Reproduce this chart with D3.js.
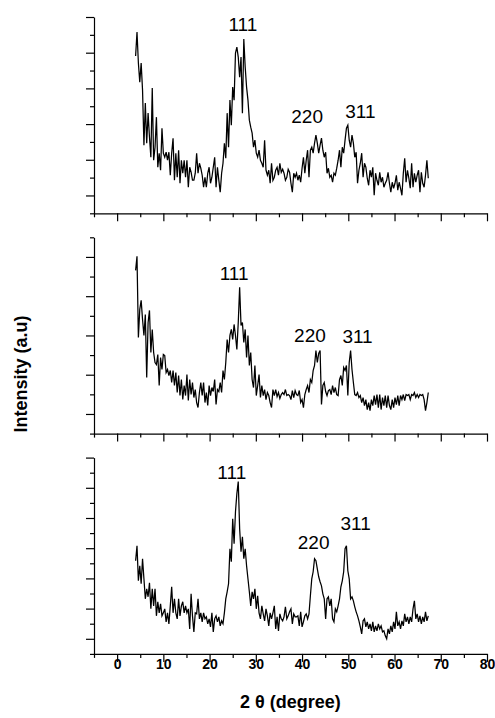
<!DOCTYPE html>
<html>
<head>
<meta charset="utf-8">
<script src="https://cdnjs.cloudflare.com/ajax/libs/d3/7.8.5/d3.min.js"></script>
<style>
  body { margin: 0; background: #fff; }
  svg { display: block; font-family: "Liberation Sans", Arial, sans-serif; }
</style>
</head>
<body>
<div id="xrd"></div>
<script>
// 2theta scan, same steps for the three samples
const twoTheta = [
  4,4.3,4.6,4.9,5.2,5.5,5.8,6.1,6.4,6.7,
  7,7.3,7.6,7.9,8.2,8.5,8.8,9.1,9.4,9.7,
  10,10.3,10.6,10.9,11.2,11.5,11.8,12.1,12.4,12.7,
  13,13.3,13.6,13.9,14.2,14.5,14.8,15.1,15.4,15.7,
  16,16.3,16.6,16.9,17.2,17.5,17.8,18.1,18.4,18.7,
  19,19.3,19.6,19.9,20.2,20.5,20.8,21.1,21.4,21.7,
  22,22.3,22.6,22.9,23.2,23.5,23.8,24.1,24.4,24.7,
  25,25.3,25.6,25.9,26.2,26.5,26.8,27.1,27.4,27.7,
  28,28.3,28.6,28.9,29.2,29.5,29.8,30.1,30.4,30.7,
  31,31.3,31.6,31.9,32.2,32.5,32.8,33.1,33.4,33.7,
  34,34.3,34.6,34.9,35.2,35.5,35.8,36.1,36.4,36.7,
  37,37.3,37.6,37.9,38.2,38.5,38.8,39.1,39.4,39.7,
  40,40.3,40.6,40.9,41.2,41.5,41.8,42.1,42.4,42.7,
  43,43.3,43.6,43.9,44.2,44.5,44.8,45.1,45.4,45.7,
  46,46.3,46.6,46.9,47.2,47.5,47.8,48.1,48.4,48.7,
  49,49.3,49.6,49.9,50.2,50.5,50.8,51.1,51.4,51.7,
  52,52.3,52.6,52.9,53.2,53.5,53.8,54.1,54.4,54.7,
  55,55.3,55.6,55.9,56.2,56.5,56.8,57.1,57.4,57.7,
  58,58.3,58.6,58.9,59.2,59.5,59.8,60.1,60.4,60.7,
  61,61.3,61.6,61.9,62.2,62.5,62.8,63.1,63.4,63.7,
  64,64.3,64.6,64.9,65.2,65.5,65.8,66.1,66.4,66.7,
  67,67.3
];

const intensityTop = [
  157,181,150,131,150,123,68,110,70,100,
  76,56,125,53,66,96,46,60,43,85,
  60,56,61,53,61,38,60,75,33,60,
  36,63,30,53,40,53,36,53,26,46,
  41,33,33,40,60,40,50,45,38,26,
  36,26,40,46,30,36,46,56,26,46,
  33,21,40,50,70,55,100,66,113,88,
  126,113,160,166,156,136,156,100,174,146,
  126,113,93,86,80,66,73,60,56,63,
  53,50,46,73,43,38,43,30,50,33,
  36,43,46,38,50,41,44,40,33,36,
  44,41,30,21,40,36,40,33,38,31,
  45,56,40,53,63,36,63,66,60,70,
  78,70,60,68,75,63,56,61,40,45,
  36,38,31,40,38,45,53,63,46,66,
  60,73,85,88,73,66,78,70,56,61,
  30,43,50,60,36,50,46,35,28,43,
  36,46,18,40,33,28,41,31,36,26,
  30,33,41,30,21,31,25,30,38,23,
  31,25,18,40,55,31,43,35,25,50,
  26,40,31,38,43,21,41,30,26,38,
  53,35
];

const intensityMid = [
  163,177,96,124,133,114,98,119,56,111,
  123,81,104,81,71,69,79,48,76,64,
  79,78,61,64,58,63,51,63,48,61,
  41,58,38,54,34,48,38,59,33,54,
  39,51,36,44,31,26,41,51,38,51,
  31,41,28,48,38,46,42,54,29,44,
  42,51,41,63,54,71,94,81,98,104,
  94,109,98,84,111,146,108,111,91,104,
  76,98,68,81,54,46,68,38,48,59,
  36,48,38,44,34,41,38,31,26,44,
  38,44,37,41,35,39,41,39,44,38,
  39,38,34,43,36,43,39,38,43,31,
  34,26,39,44,48,41,54,51,63,68,
  83,71,80,83,29,48,51,42,38,43,
  44,39,48,41,46,39,38,54,58,48,
  66,63,68,38,71,83,64,51,39,38,
  41,36,38,31,36,28,34,24,31,23,
  34,28,38,29,39,26,39,24,36,28,
  38,26,38,28,24,34,26,36,29,38,
  28,38,34,39,33,39,38,39,34,39,
  38,41,36,39,36,39,38,39,34,23,
  31,41
];

const intensityBottom = [
  93,108,73,88,70,95,75,55,65,57,
  71,45,65,48,65,38,52,41,50,38,
  41,45,32,41,30,48,67,41,55,41,
  35,55,38,48,52,41,48,41,45,25,
  60,38,22,41,40,55,35,41,32,41,
  35,37,30,35,27,41,22,35,38,32,
  37,28,33,30,41,55,62,70,105,92,
  135,110,142,160,172,125,102,117,95,105,
  88,75,62,48,62,55,65,45,58,41,
  35,48,40,33,45,38,28,41,35,41,
  48,25,37,23,40,35,33,37,47,35,
  38,42,45,30,40,37,37,38,28,42,
  27,32,38,40,35,40,58,75,82,95,
  93,85,77,72,68,60,55,35,55,57,
  48,55,35,32,45,42,48,55,67,73,
  82,105,108,83,75,55,57,53,47,42,
  38,33,27,20,33,35,27,32,25,30,
  23,32,22,28,23,30,25,28,22,23,
  18,15,25,20,28,22,32,25,42,28,
  32,25,33,28,40,32,37,30,37,32,
  45,53,35,40,32,38,30,37,32,42,
  33,38
];

const peakNames = ['111', '220', '311'];
const peakThetaTop = [27.2, 41.1, 52.6];
const peakIntTop = [182, 90, 95];
const peakThetaMid = [25.3, 41.7, 52.0];
const peakIntMid = [153, 91, 90];
const peakThetaBottom = [24.8, 42.5, 51.6];
const peakIntBottom = [175, 105, 124];

const xTickValues = [-5,0,5,10,15,20,25,30,35,40,45,50,55,60,65,70,75,80];
const yTickCounts = [11, 10, 13];
const yMax = 196;

const width = 495, height = 718;
const margin = {top: 17, left: 94, right: 8};
const panelH = 196.3, gap = 24;

const svg = d3.select('#xrd')
  .append('svg')
  .attr('width', width)
  .attr('height', height);

const x = d3.scaleLinear().domain([-5, 80]).range([margin.left, width - margin.right]);

const panels = [
  {values: intensityTop, ticks: yTickCounts[0], lx: peakThetaTop, ly: peakIntTop},
  {values: intensityMid, ticks: yTickCounts[1], lx: peakThetaMid, ly: peakIntMid},
  {values: intensityBottom, ticks: yTickCounts[2], lx: peakThetaBottom, ly: peakIntBottom}
];

panels.forEach((p, i) => {
  const top = margin.top + i * (panelH + gap);
  const y = d3.scaleLinear().domain([0, yMax]).range([top + panelH, top]);
  const g = svg.append('g');

  const yTicks = d3.range(0, p.ticks + 1).map(k => k * yMax / p.ticks);
  g.append('g')
    .attr('transform', `translate(${margin.left},0)`)
    .call(d3.axisLeft(y).tickValues(yTicks).tickFormat('').tickSizeOuter(0))
    .call(a => a.selectAll('.tick line').attr('x2', (d, k) => k % 2 ? -8 : -4))
    .call(a => a.selectAll('path, line').attr('stroke', '#000').attr('stroke-width', 1.2));

  const lastPanel = i === panels.length - 1;
  g.append('g')
    .attr('transform', `translate(0,${top + panelH})`)
    .call(d3.axisBottom(x).tickValues(xTickValues).tickSizeOuter(0)
      .tickFormat(d => lastPanel && d % 10 === 0 ? d : ''))
    .call(a => a.selectAll('.tick line').attr('y2', d => d % 10 === 0 ? 8 : 4))
    .call(a => a.selectAll('path, line').attr('stroke', '#000').attr('stroke-width', 1.2))
    .call(a => a.selectAll('.tick text')
      .attr('y', 5)
      .attr('fill', '#000')
      .attr('font-size', 14)
      .attr('font-weight', 'bold')
      .attr('font-family', '"Liberation Sans", Arial, sans-serif'));

  const line = d3.line()
    .x((d, k) => x(twoTheta[k]))
    .y(d => y(d));

  g.append('path')
    .datum(p.values)
    .attr('d', line)
    .attr('fill', 'none')
    .attr('stroke', '#000')
    .attr('stroke-width', 1.25)
    .attr('stroke-linejoin', 'miter');

  g.selectAll('.peak')
    .data(peakNames)
    .enter()
    .append('text')
    .attr('class', 'peak')
    .attr('x', (d, k) => x(p.lx[k]))
    .attr('y', (d, k) => y(p.ly[k]))
    .attr('text-anchor', 'middle')
    .attr('font-size', 19)
    .text(d => d);
});

// axis titles
svg.append('text')
  .attr('transform', 'translate(27,374) rotate(-90)')
  .attr('text-anchor', 'middle')
  .attr('font-size', 18)
  .attr('font-weight', 'bold')
  .text('Intensity (a.u)');

svg.append('text')
  .attr('x', (x.range()[0] + x.range()[1]) / 2)
  .attr('y', 708)
  .attr('text-anchor', 'middle')
  .attr('font-size', 18)
  .attr('font-weight', 'bold')
  .text('2 θ (degree)');
</script>
</body>
</html>
